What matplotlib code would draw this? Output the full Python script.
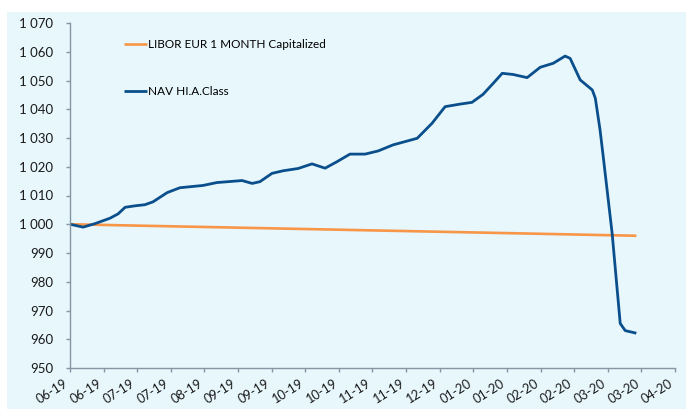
import matplotlib
matplotlib.use("Agg")
import matplotlib.pyplot as plt
from matplotlib.patches import Rectangle
from matplotlib.ticker import FuncFormatter

# x tick labels (one per major tick, category-like positions 0..18)
tick_labels = ["06-19", "06-19", "07-19", "07-19", "08-19", "09-19", "09-19",
               "10-19", "10-19", "11-19", "11-19", "12-19", "01-20", "01-20",
               "02-20", "02-20", "03-20", "03-20", "04-20"]

# NAV HI.A.Class (x in tick units)
nav_x = [0.00, 0.39, 0.74, 1.19, 1.43, 1.64, 1.93, 2.23, 2.47, 2.89, 3.27,
         3.96, 4.37, 5.12, 5.42, 5.65, 6.01, 6.34, 6.79, 7.20, 7.59, 7.95,
         8.33, 8.78, 9.17, 9.61, 10.33, 10.77, 11.16, 11.61, 11.96, 12.29,
         12.59, 12.86, 13.18, 13.60, 13.99, 14.38, 14.73, 14.88, 15.18,
         15.54, 15.63, 15.77, 15.86, 16.13, 16.37, 16.52, 16.85]
nav_y = [1000.0, 999.0, 1000.2, 1002.1, 1003.6, 1005.9, 1006.4, 1006.8,
         1007.8, 1011.0, 1012.7, 1013.5, 1014.5, 1015.2, 1014.2, 1014.8,
         1017.7, 1018.6, 1019.4, 1021.0, 1019.5, 1021.8, 1024.4, 1024.4,
         1025.5, 1027.6, 1029.9, 1035.1, 1040.9, 1041.8, 1042.4, 1045.2,
         1049.0, 1052.5, 1052.1, 1051.0, 1054.6, 1056.0, 1058.5, 1057.7,
         1050.2, 1046.7, 1043.8, 1032.8, 1024.0, 996.8, 965.5, 963.0, 962.1]

# LIBOR EUR 1 MONTH Capitalized
libor_x = [0.00, 16.85]
libor_y = [1000.0, 996.0]

bg = "#e7f7fc"
fig = plt.figure(figsize=(6.86, 4.09), dpi=100)
fig.patches.append(Rectangle((7 / 686, 0), 1, 397 / 409, transform=fig.transFigure,
                             facecolor=bg, edgecolor="none", zorder=-5))

ax = fig.add_axes([70 / 686, 41 / 409, 605 / 686, 345 / 409])
ax.set_facecolor("none")

ax.plot(libor_x, libor_y, color="#f79646", lw=1.9, label="LIBOR EUR 1 MONTH Capitalized",
        solid_capstyle="butt")
ax.plot(nav_x, nav_y, color="#0a4f8c", lw=2.0, label="NAV HI.A.Class",
        solid_joinstyle="round", solid_capstyle="butt")

ax.set_xlim(0, 18)
ax.set_ylim(950, 1070)
ax.set_yticks(range(950, 1071, 10))
ax.yaxis.set_major_formatter(FuncFormatter(lambda v, p: "{:,.0f}".format(v).replace(",", " ")))
ax.set_xticks(range(len(tick_labels)))
ax.set_xticklabels(tick_labels, rotation=32, ha="right", va="top")

for s in ["top", "right"]:
    ax.spines[s].set_visible(False)
for s in ["left", "bottom"]:
    ax.spines[s].set_color("#8796a3")
    ax.spines[s].set_linewidth(1.0)
ax.tick_params(axis="both", direction="out", length=3, color="#8796a3", width=1.0,
               labelsize=9.5, labelcolor="#1a1a1a")
ax.tick_params(axis="x", pad=3.5, labelsize=9.2)
ax.tick_params(axis="y", pad=9)
for lbl in ax.get_xticklabels() + ax.get_yticklabels():
    lbl.set_family("Lato")

leg = ax.legend(loc="upper left", bbox_to_anchor=(0.072, 0.985), frameon=False,
                handlelength=1.9, handletextpad=0.15, labelspacing=3.1,
                prop={"family": "Lato", "size": 8.5})

fig.savefig("out.png", dpi=100)
